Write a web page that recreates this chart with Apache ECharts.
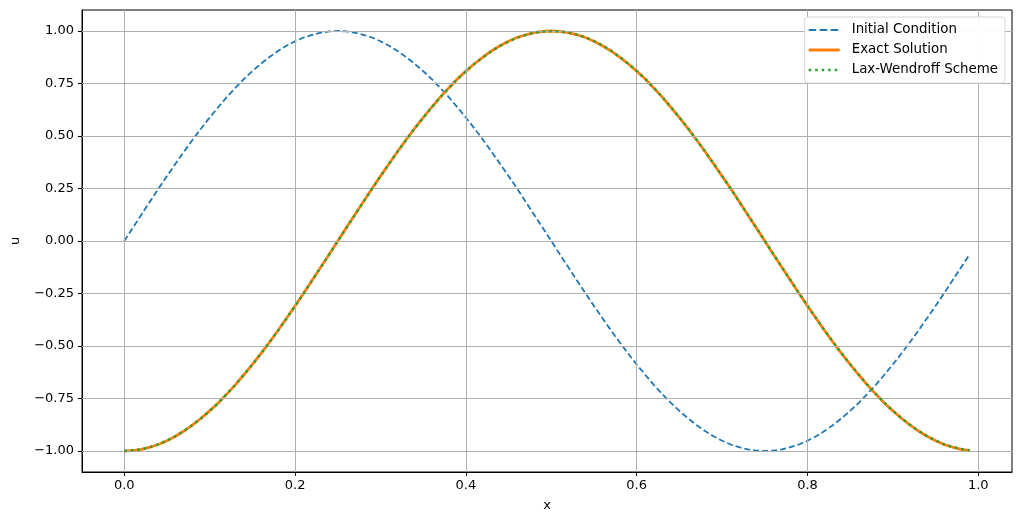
<!DOCTYPE html>
<html>
<head>
<meta charset="utf-8">
<script src="https://cdn.jsdelivr.net/npm/echarts@6/dist/echarts.min.js"></script>
<style>html,body{margin:0;padding:0;background:#fff;}#c{width:1021px;height:525px;}</style>
</head>
<body>
<div id="c"></div>
<script>
// x grid: 0.00 .. 0.99 step 0.01
const xValues = [0.00,0.01,0.02,0.03,0.04,0.05,0.06,0.07,0.08,0.09,0.10,0.11,0.12,0.13,0.14,0.15,0.16,0.17,0.18,0.19,0.20,0.21,0.22,0.23,0.24,0.25,0.26,0.27,0.28,0.29,0.30,0.31,0.32,0.33,0.34,0.35,0.36,0.37,0.38,0.39,0.40,0.41,0.42,0.43,0.44,0.45,0.46,0.47,0.48,0.49,0.50,0.51,0.52,0.53,0.54,0.55,0.56,0.57,0.58,0.59,0.60,0.61,0.62,0.63,0.64,0.65,0.66,0.67,0.68,0.69,0.70,0.71,0.72,0.73,0.74,0.75,0.76,0.77,0.78,0.79,0.80,0.81,0.82,0.83,0.84,0.85,0.86,0.87,0.88,0.89,0.90,0.91,0.92,0.93,0.94,0.95,0.96,0.97,0.98,0.99];

const initialCondition = [0.000,0.063,0.125,0.187,0.249,0.309,0.368,0.426,0.482,0.536,0.588,0.637,0.685,0.729,0.771,0.809,0.844,0.876,0.905,0.930,0.951,0.969,0.982,0.992,0.998,1.000,
0.998,0.992,0.982,0.969,0.951,0.930,0.905,0.876,0.844,0.809,0.771,0.729,0.685,0.637,0.588,0.536,0.482,0.426,0.368,0.309,0.249,0.187,0.125,0.063,0.000,
-0.063,-0.125,-0.187,-0.249,-0.309,-0.368,-0.426,-0.482,-0.536,-0.588,-0.637,-0.685,-0.729,-0.771,-0.809,-0.844,-0.876,-0.905,-0.930,-0.951,-0.969,-0.982,-0.992,-0.998,-1.000,
-0.998,-0.992,-0.982,-0.969,-0.951,-0.930,-0.905,-0.876,-0.844,-0.809,-0.771,-0.729,-0.685,-0.637,-0.588,-0.536,-0.482,-0.426,-0.368,-0.309,-0.249,-0.187,-0.125,-0.063];

const exactSolution = [-1.000,-0.998,-0.992,-0.982,-0.969,-0.951,-0.930,-0.905,-0.876,-0.844,-0.809,-0.771,-0.729,-0.685,-0.637,-0.588,-0.536,-0.482,-0.426,-0.368,-0.309,-0.249,-0.187,-0.125,-0.063,0.000,
0.063,0.125,0.187,0.249,0.309,0.368,0.426,0.482,0.536,0.588,0.637,0.685,0.729,0.771,0.809,0.844,0.876,0.905,0.930,0.951,0.969,0.982,0.992,0.998,1.000,
0.998,0.992,0.982,0.969,0.951,0.930,0.905,0.876,0.844,0.809,0.771,0.729,0.685,0.637,0.588,0.536,0.482,0.426,0.368,0.309,0.250,0.188,0.125,0.063,0.000,
-0.063,-0.125,-0.187,-0.249,-0.309,-0.368,-0.426,-0.482,-0.536,-0.588,-0.637,-0.685,-0.729,-0.771,-0.809,-0.844,-0.876,-0.905,-0.930,-0.951,-0.969,-0.982,-0.992,-0.998];

const laxWendroff = [-0.999,-0.997,-0.992,-0.982,-0.968,-0.951,-0.929,-0.904,-0.876,-0.844,-0.809,-0.771,-0.729,-0.685,-0.638,-0.588,-0.537,-0.483,-0.427,-0.369,-0.310,-0.250,-0.188,-0.126,-0.064,-0.001,
0.062,0.124,0.186,0.248,0.308,0.367,0.425,0.481,0.535,0.587,0.636,0.684,0.728,0.770,0.808,0.843,0.875,0.904,0.929,0.950,0.968,0.981,0.991,0.997,0.999,
0.998,0.992,0.983,0.970,0.952,0.931,0.906,0.877,0.845,0.810,0.772,0.730,0.686,0.638,0.589,0.537,0.483,0.427,0.369,0.310,0.250,0.188,0.126,0.064,0.001,
-0.062,-0.124,-0.186,-0.248,-0.308,-0.367,-0.425,-0.481,-0.535,-0.587,-0.636,-0.684,-0.728,-0.770,-0.808,-0.843,-0.875,-0.904,-0.929,-0.950,-0.968,-0.981,-0.991,-0.997];

const seriesNames = ['Initial Condition','Exact Solution','Lax-Wendroff Scheme'];
const xTicks = [0.0,0.2,0.4,0.6,0.8,1.0];
const yTicks = [-1.00,-0.75,-0.50,-0.25,0.00,0.25,0.50,0.75,1.00];

const pair = (ys) => xValues.map((x,i)=>[x, ys[i]]);
const FONT = 'DejaVu Sans';

// legend glyphs (last subpath is an empty spacer that widens the icon box)
const SPACER = ' M38,0 L38,3';
const ICON_DASH = 'path://M0,0.6h7.5v1.9h-7.5z M11,0.6h7.5v1.9h-7.5z M22,0.6h7.5v1.9h-7.5z' + SPACER;
const ICON_SOLID = 'path://M0,0h31v3h-31z' + SPACER;
const ICON_DOT = 'path://M0,0.25h2.5v2.5h-2.5z M6.5,0.25h2.5v2.5h-2.5z M13,0.25h2.5v2.5h-2.5z M19.5,0.25h2.5v2.5h-2.5z M26,0.25h2.5v2.5h-2.5z' + SPACER;

const chart = echarts.init(document.getElementById('c'), null, {renderer:'canvas'});
chart.setOption({
  animation:false,
  backgroundColor:'#fff',
  textStyle:{fontFamily:FONT},
  grid:{left:82, right:9, top:10, bottom:53, show:true, borderColor:'#000', borderWidth:1, backgroundColor:'transparent'},
  legend:{
    orient:'vertical', right:16, top:17, z:10,
    padding:[6,7,6,4], itemWidth:38, itemHeight:3, itemGap:6,
    backgroundColor:'rgba(255,255,255,0.95)', borderColor:'#d6d6d6', borderWidth:1, borderRadius:3,
    textStyle:{fontFamily:FONT, fontSize:13.4, color:'#000', lineHeight:14},
    data:[
      {name:seriesNames[0], icon:ICON_DASH, itemStyle:{color:'#1f77b4', borderWidth:0}},
      {name:seriesNames[1], icon:ICON_SOLID, itemStyle:{color:'#ff7f0e', borderWidth:0}},
      {name:seriesNames[2], icon:ICON_DOT, itemStyle:{color:'#2ca02c', borderWidth:0}}
    ]
  },
  xAxis:{
    type:'value', min:-0.0495, max:1.0395,
    name:'x', nameLocation:'middle', nameGap:27,
    nameTextStyle:{fontFamily:FONT, fontSize:13, color:'#000'},
    axisLine:{show:true, onZero:false, lineStyle:{color:'#000', width:1}},
    axisTick:{show:true, length:4, customValues:xTicks, lineStyle:{color:'#000'}},
    axisLabel:{customValues:xTicks, fontFamily:FONT, fontSize:13, color:'#000', margin:7, formatter:v=>v.toFixed(1)},
    splitLine:{show:false}
  },
  yAxis:{
    type:'value', min:-1.1, max:1.1,
    name:'u', nameLocation:'middle', nameGap:60, nameRotate:90,
    nameTextStyle:{fontFamily:FONT, fontSize:13, color:'#000'},
    axisLine:{show:true, onZero:false, lineStyle:{color:'#000', width:1}},
    axisTick:{show:true, length:4, customValues:yTicks, lineStyle:{color:'#000'}},
    axisLabel:{customValues:yTicks, fontFamily:FONT, fontSize:13, color:'#000', margin:8, formatter:v=>(v<0?'\u2212':'')+Math.abs(v).toFixed(2)},
    splitLine:{show:false}
  },
  series:[
    {
      name:'grid', type:'line', data:[], silent:true, z:1,
      markLine:{
        silent:true, symbol:'none', label:{show:false},
        lineStyle:{color:'#b0b0b0', width:1, type:'solid'},
        data:[...xTicks.map(v=>({xAxis:v})), ...yTicks.map(v=>({yAxis:v}))]
      }
    },
    {name:seriesNames[0], type:'line', data:pair(initialCondition), symbol:'none', z:3,
      lineStyle:{color:'#1f77b4', width:1.8, type:[6,3]}, itemStyle:{color:'#1f77b4'}},
    {name:seriesNames[1], type:'line', data:pair(exactSolution), symbol:'none', z:4,
      lineStyle:{color:'#ff7f0e', width:2.8, type:'solid'}, itemStyle:{color:'#ff7f0e'}},
    {name:seriesNames[2], type:'line', data:pair(laxWendroff), symbol:'none', z:5,
      lineStyle:{color:'#2ca02c', width:2.5, type:[2.5,4]}, itemStyle:{color:'#2ca02c'}}
  ]
});
</script>
</body>
</html>
